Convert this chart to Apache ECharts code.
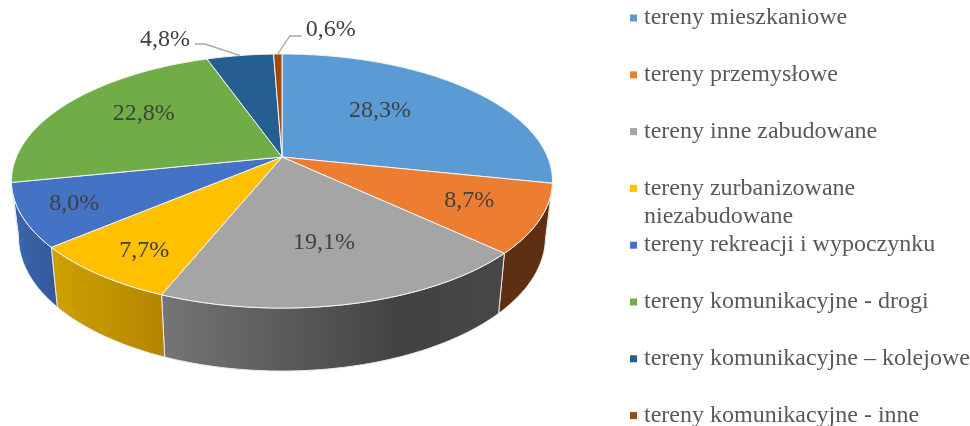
<!DOCTYPE html>
<html><head><meta charset="utf-8">
<style>html,body{margin:0;padding:0;background:#fff}#c{width:970px;height:426px}</style>
<script src="https://cdn.jsdelivr.net/npm/echarts@6/dist/echarts.min.js"></script>
</head><body><div id="c"></div>
<script>
const categories = ['tereny mieszkaniowe','tereny przemysłowe','tereny inne zabudowane','tereny zurbanizowane','tereny rekreacji i wypoczynku','tereny komunikacyjne - drogi','tereny komunikacyjne – kolejowe','tereny komunikacyjne - inne'];
const values = [28.3, 8.7, 19.1, 7.7, 8.0, 22.8, 4.8, 0.6];
const topColors = ['#5b9bd5','#ed7d31','#a5a5a5','#ffc000','#4472c4','#70ad47','#255e91','#9e480e'];
const sideStops = [
  ['#37638c','#37638c'],['#5e2f13','#5e2f13'],['#757575','#424242','#474747'],['#cfa100','#b38500'],
  ['#3c66b0','#34599a'],['#44692b','#44692b'],['#173a5a','#173a5a'],['#602c09','#602c09']];
// offset of each label from its anchor (px)
const labelNudge = [[-17.5,-3],[38,8],[3.5,5],[-35,28],[-57,13],[-7,-9],[-75,-15.5],[53,-24]];
// leader lines [elbow, end] relative to the rim anchor
const leaders = {6:[[-35,-11.5],[-45,-11.5]], 7:[[12,-18],[24,-18]]};

const P = {cx:282, cy:157, A:265.6, B:122.5, k:0.189, depth:63, shrink:0.974, bottomB:129};
const FONT = '"Liberation Serif","Times New Roman",serif';
const total = values.reduce((a,b)=>a+b,0);
function proj(deg, f){
  const t=deg*Math.PI/180, u=f*Math.sin(t), v=f*Math.cos(t), w=1+P.k*v;
  return [P.cx+P.A*u/w, P.cy-P.B*v/w];
}
function projBottom(deg){
  const t=deg*Math.PI/180, u=Math.sin(t), v=Math.cos(t), w=1+P.k*v;
  const y0 = P.cy + P.B/(1-P.k) + P.depth - P.bottomB/(1-P.k);
  return [P.cx+P.A*P.shrink*u/w, y0-P.bottomB*v/w];
}
function arc(a0,a1,fn){
  const pts=[], n=Math.max(2,Math.ceil(Math.abs(a1-a0)));
  for(let i=0;i<=n;i++) pts.push(fn(a0+(a1-a0)*i/n));
  return pts;
}
function renderSlice(idx){
  return function(){
    let before=0; for(let i=0;i<idx;i++) before+=values[i];
    const a0=before/total*360, a1=(before+values[idx])/total*360, mid=(a0+a1)/2;
    const children=[];
    // visible front wall
    const s0=Math.max(a0,100.9), s1=Math.min(a1,259.1);
    if(s1>s0){
      const top=arc(s0,s1,d=>proj(d,1)), bot=arc(s1,s0,projBottom);
      const st=sideStops[idx];
      children.push({type:'polygon',z2:1,shape:{points:top.concat(bot)},
        style:{stroke:'#e9e9e9',lineWidth:1,
          fill:new echarts.graphic.LinearGradient(0,0,1,0,st.map((c,i)=>({offset:st.length===3?[0,.7,1][i]:i/(st.length-1),color:c})))}});
    }
    // top face
    children.push({type:'polygon',z2:5,shape:{points:[[P.cx,P.cy]].concat(arc(a0,a1,d=>proj(d,1)))},
      style:{fill:topColors[idx],stroke:'#f4f4f4',lineWidth:1,lineJoin:'round'}});
    // label
    const anchor = leaders[idx]?proj(mid,1):proj(mid,0.6);
    const nd=labelNudge[idx];
    children.push({type:'text',z2:10,x:anchor[0]+nd[0],y:anchor[1]+nd[1],
      style:{text:values[idx].toFixed(1).replace('.',',')+'%',fill:'#404040',font:'24px '+FONT,align:'center',verticalAlign:'middle'}});
    if(leaders[idx]){
      const pts=[anchor].concat(leaders[idx].map(o=>[anchor[0]+o[0],anchor[1]+o[1]]));
      children.push({type:'polyline',z2:9,shape:{points:pts},style:{stroke:'#a6a6a6',lineWidth:1.3,fill:null}});
    }
    return {type:'group',children};
  };
}
const LEG = {top:4, step:56.8, left:630};
const chart=echarts.init(document.getElementById('c'),null,{renderer:'canvas'});
chart.setOption({
  animation:false,
  color:topColors,
  legend:categories.map((c,i)=>({
    show:true,data:[c],orient:'vertical',left:LEG.left,top:LEG.top+i*LEG.step,padding:0,
    itemWidth:7,itemHeight:7,selectedMode:false,icon:'rect',
    textStyle:{fontFamily:FONT,fontSize:24,color:'#595959',lineHeight:28,padding:[0,0,0,2]}
  })),
  graphic:[{type:'text',left:644,top:LEG.top+3*LEG.step+28,z:10,
    style:{text:'niezabudowane',fill:'#595959',font:'24px '+FONT,lineHeight:28}}],
  series:categories.map((c,i)=>({
    type:'custom',name:c,coordinateSystem:'none',data:[values[i]],silent:true,
    itemStyle:{color:topColors[i]},renderItem:renderSlice(i)
  }))
});
</script></body></html>
